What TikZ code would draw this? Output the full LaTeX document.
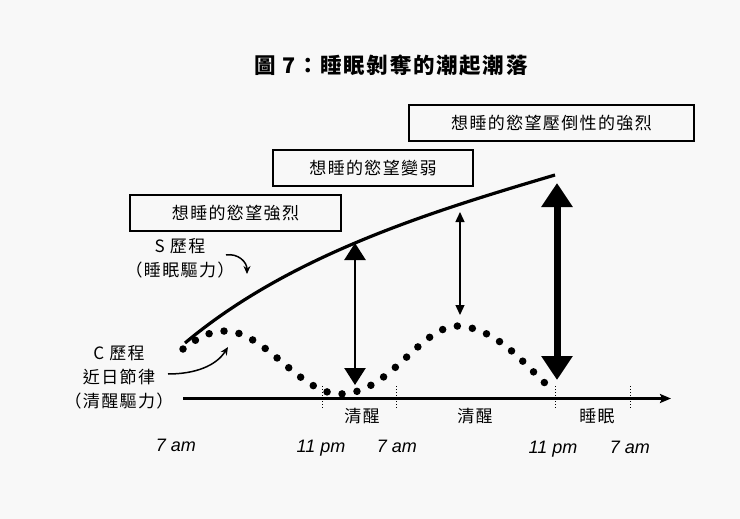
\documentclass[tikz,border=0pt]{standalone}
\usepackage{fontspec}
\newfontfamily\cjk[LetterSpace=8]{Noto Sans CJK TC}
\newfontfamily\timefont{Liberation Sans}
\usetikzlibrary{arrows.meta}
\definecolor{paper}{RGB}{248,248,248}
\tikzstyle{every box} = []
\tikzstyle{box} = [draw, line width=1.3pt, minimum height=36pt, inner sep=0pt, font=\cjk\fontsize{17}{20}\selectfont, every box]
\tikzstyle{tag} = [font=\cjk\fontsize{17}{24}\selectfont, align=center, inner sep=0pt]
\tikzstyle{hour} = [font=\timefont\itshape\fontsize{18}{20}\selectfont, inner sep=0pt, anchor=base]
\tikzstyle{bend arrow} = [-{Stealth[length=8pt,width=7pt]}, line width=1.5pt]
\tikzstyle{dots} = [line width=7.5pt, line cap=round, dash pattern=on 0pt off 15.2pt]

\begin{document}
\begin{tikzpicture}[x=1pt,y=-1pt]
                    \fill[paper] (0,0) rectangle (740,519);
                    \useasboundingbox (0,0) rectangle (740,519);
                    \node[font=\cjk\bfseries\fontsize{21.5}{24}\selectfont] (title) at (391,65) {圖 7：睡眠剝奪的潮起潮落};
                    % los tres recuadros
                    \node[box, minimum width=285pt] (overwhelm) at (551.5,123) {想睡的慾望壓倒性的強烈};
                    \node[box, minimum width=200pt] (weak) at (373,168) {想睡的慾望變弱};
                    \node[box, minimum width=211pt] (strong) at (235.5,213) {想睡的慾望強烈};
                    \node[tag] (sproc) at (180,258) {S 歷程\\（睡眠驅力）};
                    \node[tag] (cproc) at (119,377) {C 歷程\\近日節律\\（清醒驅力）};
                    \coordinate (sa) at (226,255);
                    \coordinate (sb) at (247,274);
                    \coordinate (ca) at (168,374);
                    \coordinate (cb) at (228,347);
                    \draw[bend arrow] (sa) .. controls (238,253) and (247,262) .. (sb);
                    \draw[bend arrow] (ca) .. controls (195,374) and (216,366) .. (cb);
                    % curvas S y C
                    \coordinate (s0) at (185,343);
                    \coordinate (s1) at (555,175);
                    \draw[line width=3.2pt] (s0) .. controls (290,255) and (430,212) .. (s1);
                    \coordinate (c0) at (183,349);
                    \coordinate (c1) at (225,331);
                    \coordinate (c2) at (340,394);
                    \coordinate (c3) at (458,326);
                    \coordinate (c4) at (547,385);
                    \draw[dots] (c0) .. controls (197,338) and (210,331) .. (c1) .. controls (265,331) and (300,394) .. (c2) .. controls (390,394) and (420,326) .. (c3) .. controls (497,328) and (524,364) .. (c4);
                    % eje
                    \coordinate (ax0) at (183,398.5);
                    \coordinate (ax1) at (671,398.5);
                    \draw[-{Stealth[length=11pt,width=9pt,inset=2pt]}, line width=2.2pt] (ax0) -- (ax1);
                    \foreach \x in {322,396,555,630}
                        \draw[dotted, line width=1pt] (\x,386) -- (\x,409);
                    \node[tag] (awake1) at (362,416) {清醒};
                    \node[tag] (awake2) at (475,416) {清醒};
                    \node[tag] (sleep) at (597,416) {睡眠};
                    \node[hour] (h1) at (176,451) {7 am};
                    \node[hour] (h2) at (321,452) {11 pm};
                    \node[hour] (h3) at (397,452) {7 am};
                    \node[hour] (h4) at (553,453) {11 pm};
                    \node[hour] (h5) at (630,453) {7 am};
                    % flechas dobles
                    \coordinate (a1) at (355,243);
                    \coordinate (b1) at (355,385);
                    \coordinate (a2) at (460,212);
                    \coordinate (b2) at (460,315);
                    \coordinate (a3) at (557,183);
                    \coordinate (b3) at (557,380);
                    \draw[line width=2.5pt, {Triangle[width=21pt,length=17pt]}-{Triangle[width=21pt,length=17pt]}] (a1) -- (b1);
                    \draw[line width=1.3pt, {Triangle[width=9pt,length=10pt]}-{Triangle[width=9pt,length=10pt]}] (a2) -- (b2);
                    \draw[line width=7pt, {Triangle[width=30pt,length=24pt]}-{Triangle[width=30pt,length=24pt]}] (a3) -- (b3);
                \end{tikzpicture}
\end{document}
